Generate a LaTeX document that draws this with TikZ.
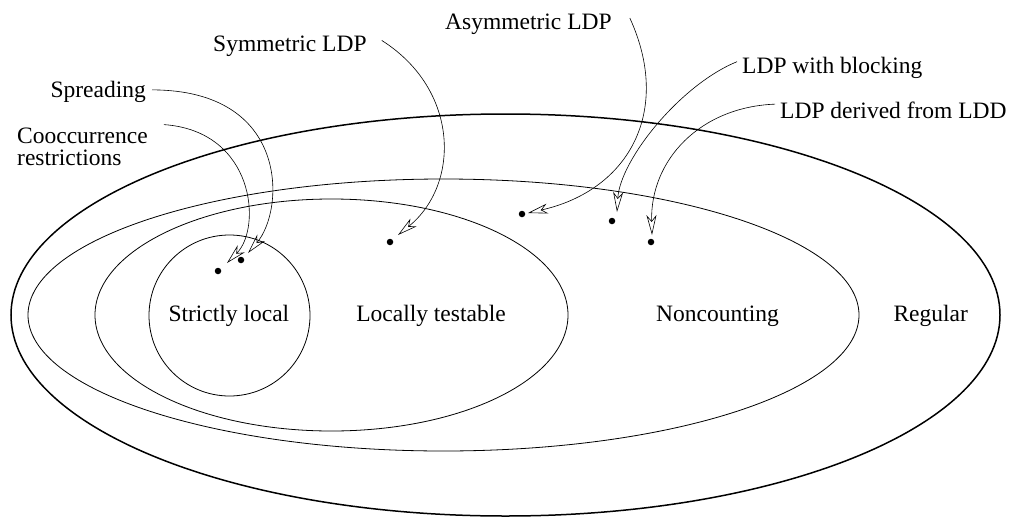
\documentclass[tikz,border=0pt]{standalone}
\usepackage{fontspec}
\setmainfont{Liberation Serif}
\newfontfamily\labfont{Liberation Serif}
\usetikzlibrary{shapes.geometric,arrows.meta}
\begin{document}
\begin{tikzpicture}[x=1pt,y=-1pt,
  region/.style={draw, ellipse, inner sep=0pt, line width=0.8pt},
  lab/.style={inner sep=0pt, font=\labfont\fontsize{23.5}{22}\selectfont},
  dotmark/.style={circle, fill=black, inner sep=0pt, minimum size=6.5pt},
  arr/.style={line width=0.6pt, -{Stealth[open, length=20pt, width=10pt, inset=6pt, line width=0.6pt]}}
]
\useasboundingbox (0,0) rectangle (1010,517);
% regions
\node[region, line width=1.5pt, minimum width=989pt, minimum height=402pt] (reg) at (505.5,315) {};
\node[region, minimum width=831pt, minimum height=272pt] (nc) at (443.5,315) {};
\node[region, minimum width=473pt, minimum height=232pt] (lt) at (331.5,315) {};
\node[draw, circle, inner sep=0pt, line width=0.8pt, minimum size=161pt] (sl) at (229.5,315.5) {};
% region labels
\node[lab, anchor=base west] (tsl) at (168.3,321.7) {Strictly local};
\node[lab, anchor=base] (tlt) at (431,321.7) {Locally testable};
\node[lab, anchor=base] (tnc) at (717.5,321.7) {Noncounting};
\node[lab, anchor=base west] (treg) at (893.3,321.7) {Regular};
% pattern labels
\node[lab, anchor=base east] (spread) at (146,97.5) {Spreading};
\node[lab, anchor=north west, align=left] (cooc) at (17,127.6) {Cooccurrence\\restrictions};
\node[lab, anchor=base west] (sym) at (213,51.7) {Symmetric LDP};
\node[lab, anchor=base west] (asym) at (445,29.3) {Asymmetric LDP};
\node[lab, anchor=base west] (block) at (742,73.3) {LDP with blocking};
\node[lab, anchor=base west] (ldd) at (780,118.3) {LDP derived from LDD};
% dots
\node[dotmark] (d1) at (218,271) {};
\node[dotmark] (d2) at (241,260) {};
\node[dotmark] (d3) at (390,242) {};
\node[dotmark] (d4) at (522,214) {};
\node[dotmark] (d5) at (612,221) {};
\node[dotmark] (d6) at (651,242) {};
% arrow tips near the dots
\coordinate (t1) at ([shift={(9,-8)}]d1);
\coordinate (t2) at ([shift={(7,-7)}]d2);
\coordinate (t3) at ([shift={(8,-7)}]d3);
\coordinate (t4) at ([shift={(6,-1)}]d4);
\coordinate (t5) at ([shift={(5,-9)}]d5);
\coordinate (t6) at ([shift={(1,-7)}]d6);
% connectors
\draw[arr] ([shift={(6,-2)}]spread.east) .. controls (290,90) and (285,210) .. (t2);
\draw[arr] ([shift={(16,-3)}]cooc.north east) .. controls (255,131) and (262,228) .. (t1);
\draw[arr] ([shift={(15,-6)}]sym.east) .. controls (460,90) and (460,185) .. (t3);
\draw[arr] ([shift={(18,-6)}]asym.east) .. controls (672,110) and (630,190) .. (t4);
\draw[arr] ([shift={(-5,-6)}]block.west) .. controls (680,85) and (620,160) .. (t5);
\draw[arr] ([shift={(-5,-6)}]ldd.west) .. controls (700,107) and (650,160) .. (t6);
\end{tikzpicture}
\end{document}
